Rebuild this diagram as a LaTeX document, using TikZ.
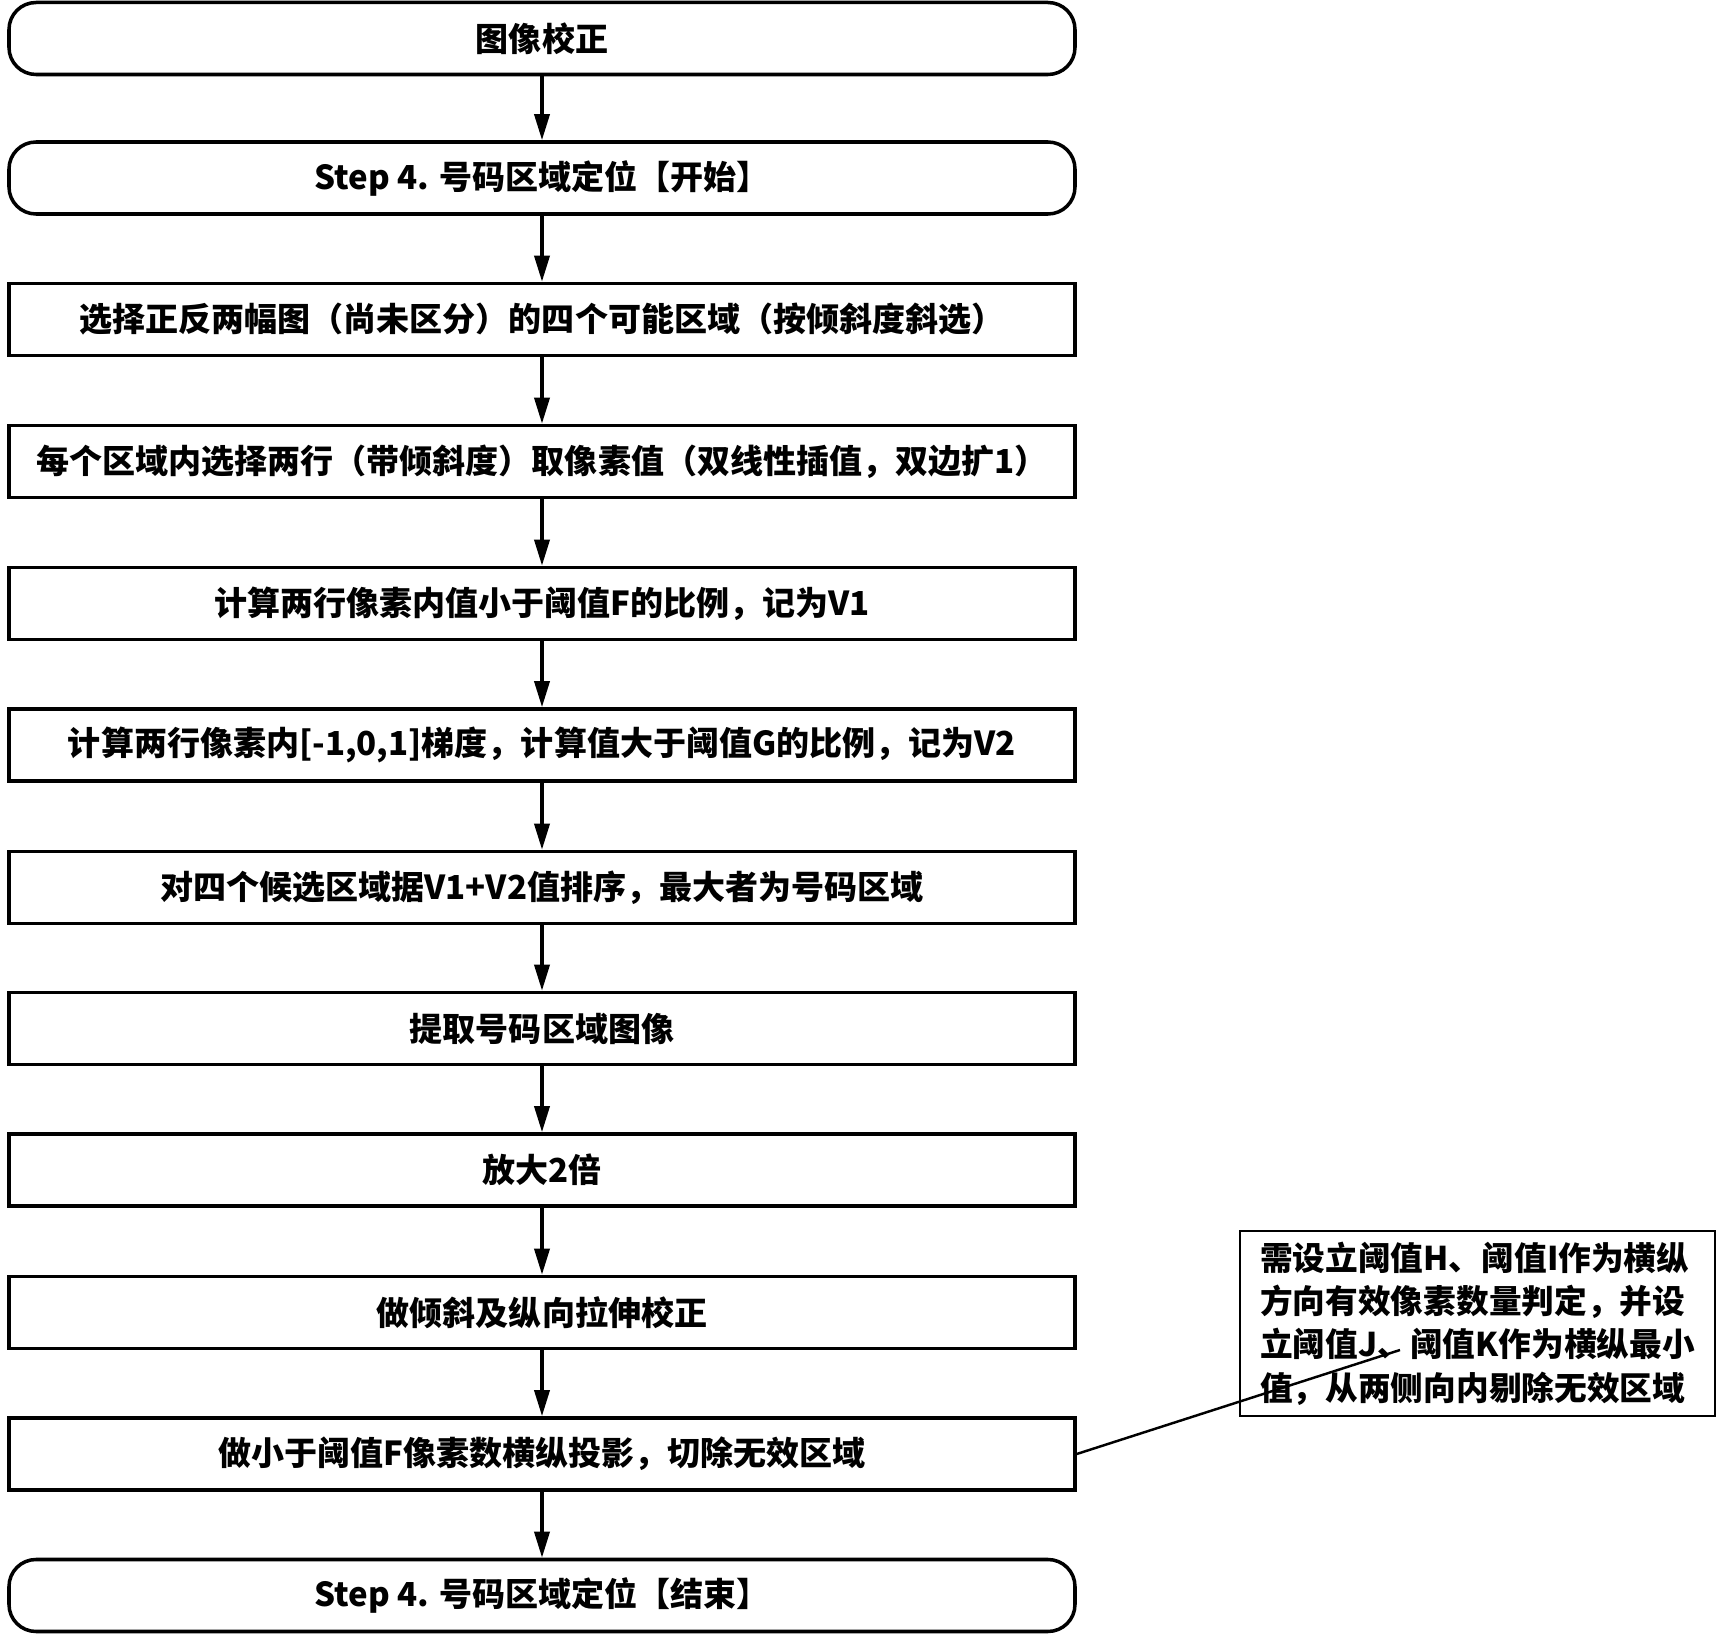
\documentclass[tikz,border=0pt]{standalone}
\usepackage{fontspec}
\setmainfont{Noto Sans CJK SC}
\usetikzlibrary{arrows.meta}

\tikzset{
  stepbox/.style={draw, line width=1pt, minimum width=10.66cm, minimum height=0.72cm,
    inner sep=0pt, font=\bfseries\fontsize{9.4}{11}\selectfont},
  endbox/.style={stepbox, rounded corners=0.27cm},
  flow/.style={line width=1pt, -{Triangle[length=2.6mm,width=1.5mm]}},
  notebox/.style={draw, line width=0.7pt, minimum width=4.75cm, minimum height=1.85cm,
    inner sep=0pt, align=left, font=\bfseries\fontsize{9.3}{12.3}\selectfont}
}

\begin{document}
\begin{tikzpicture}
    \useasboundingbox (0,0) rectangle (17.28,-16.40);
    % Main column of steps
    \node[endbox] (correct) at (5.42,-0.385) {图像校正};
    \node[endbox] (locstart) at (5.42,-1.78) {Step 4. 号码区域定位【开始】};
    \node[stepbox] (select) at (5.42,-3.195) {选择正反两幅图（尚未区分）的四个可能区域（按倾斜度斜选）};
    \node[stepbox] (sample) at (5.42,-4.615) {每个区域内选择两行（带倾斜度）取像素值（双线性插值，双边扩1）};
    \node[stepbox] (ratio) at (5.42,-6.035) {计算两行像素内值小于阈值F的比例，记为V1};
    \node[stepbox] (grad) at (5.42,-7.45) {计算两行像素内[-1,0,1]梯度，计算值大于阈值G的比例，记为V2};
    \node[stepbox] (sort) at (5.42,-8.875) {对四个候选区域据V1+V2值排序，最大者为号码区域};
    \node[stepbox] (extract) at (5.42,-10.285) {提取号码区域图像};
    \node[stepbox] (enlarge) at (5.42,-11.70) {放大2倍};
    \node[stepbox] (deskew) at (5.42,-13.125) {做倾斜及纵向拉伸校正};
    \node[stepbox] (trim) at (5.42,-14.54) {做小于阈值F像素数横纵投影，切除无效区域};
    \node[endbox] (locend) at (5.42,-15.955) {Step 4. 号码区域定位【结束】};
    % Arrows between steps
    \draw[flow] (correct) -- (locstart);
    \draw[flow] (locstart) -- (select);
    \draw[flow] (select) -- (sample);
    \draw[flow] (sample) -- (ratio);
    \draw[flow] (ratio) -- (grad);
    \draw[flow] (grad) -- (sort);
    \draw[flow] (sort) -- (extract);
    \draw[flow] (extract) -- (enlarge);
    \draw[flow] (enlarge) -- (deskew);
    \draw[flow] (deskew) -- (trim);
    \draw[flow] (trim) -- (locend);
    % Side note on the thresholds
    \node[notebox] (note) at (14.775,-13.235) {需设立阈值H、阈值I作为横纵\\方向有效像素数量判定，并设\\立阈值J、阈值K作为横纵最小\\值，从两侧向内剔除无效区域};
    \coordinate (noteend) at (14.0,-13.5);
    \draw[line width=0.7pt] (trim.east) -- (noteend);
\end{tikzpicture}
\end{document}
